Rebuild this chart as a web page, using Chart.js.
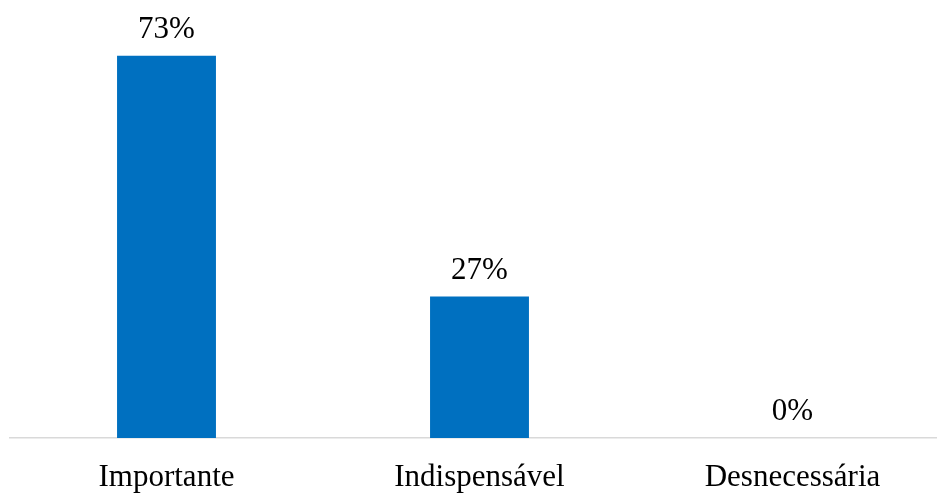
<!DOCTYPE html>
<html>
<head>
<meta charset="utf-8">
<script src="https://cdn.jsdelivr.net/npm/chart.js@4"></script>
<style>
  html, body { margin: 0; padding: 0; background: #fff; overflow: hidden; }
  #wrap { width: 937px; height: 493px; overflow: hidden; }
</style>
</head>
<body>
<div id="wrap"><canvas id="myChart" width="949" height="493"></canvas></div>
<script>
const categories = ['Importante', 'Indispensável', 'Desnecessária'];
const percents = [73, 27, 0];

// draws the "73%" labels above each bar
const barLabels = {
  id: 'barLabels',
  afterDatasetsDraw(chart) {
    const ctx = chart.ctx;
    const meta = chart.getDatasetMeta(0);
    ctx.save();
    ctx.font = '31px "Liberation Serif", "Times New Roman", serif';
    ctx.fillStyle = '#000';
    ctx.textAlign = 'center';
    ctx.textBaseline = 'alphabetic';
    meta.data.forEach((bar, i) => {
      ctx.fillText(percents[i] + '%', bar.x, bar.y - 18);
    });
    ctx.restore();
  }
};

const config = {
  type: 'bar',
  data: {
    labels: categories,
    datasets: [{
      data: percents,
      backgroundColor: '#0070C0',
      borderWidth: 0,
      categoryPercentage: 1,
      barPercentage: 0.316
    }]
  },
  options: {
    responsive: false,
    animation: false,
    layout: { padding: { left: 10, right: 0, top: 19, bottom: 0 } },
    plugins: {
      legend: { display: false },
      tooltip: { enabled: false }
    },
    scales: {
      x: {
        offset: true,
        grid: { display: false, drawTicks: false },
        border: { display: true, color: '#d9d9d9', width: 1.5 },
        ticks: {
          color: '#000',
          padding: 21,
          font: { family: '"Liberation Serif", "Times New Roman", serif', size: 31 }
        },
        afterFit(scale) { scale.height = 55; }
      },
      y: {
        display: false,
        min: 0,
        max: 80
      }
    }
  },
  plugins: [barLabels]
};

const ctx = document.getElementById('myChart').getContext('2d');
const myChart = new Chart(ctx, config);
</script>
</body>
</html>
